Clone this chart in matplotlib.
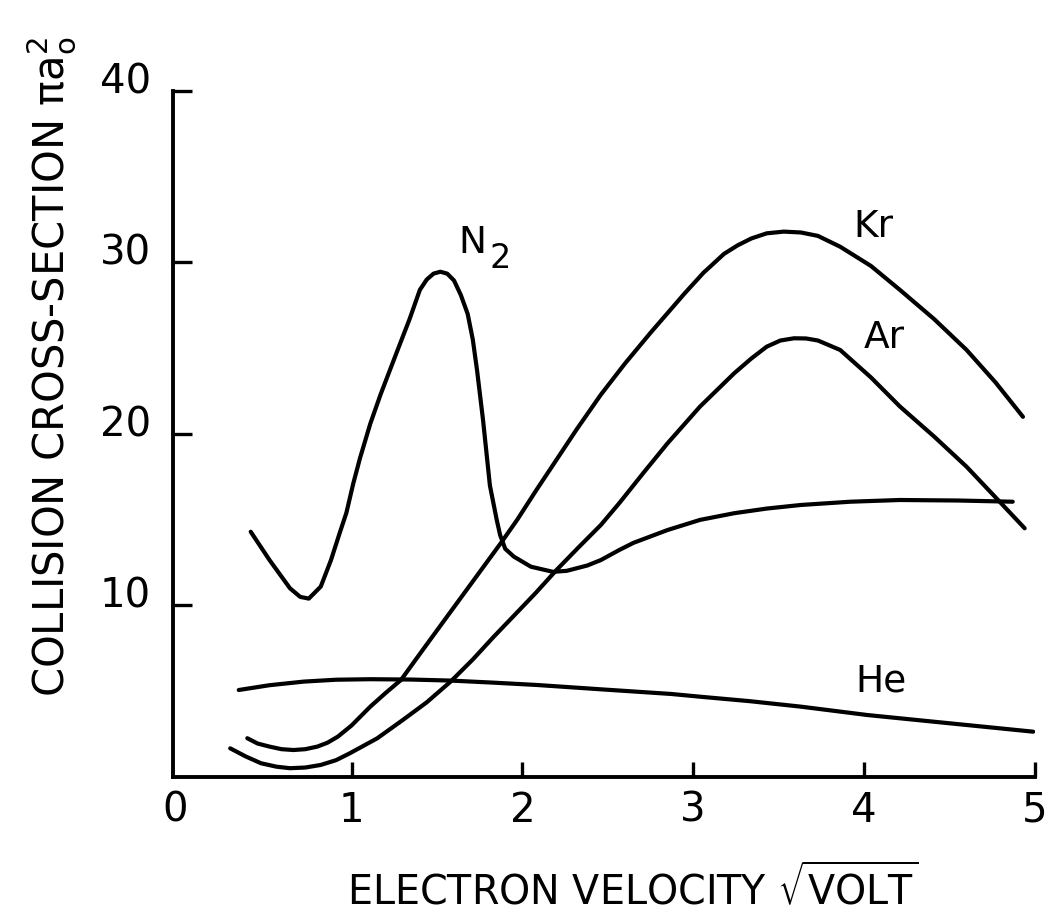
import matplotlib.pyplot as plt
from matplotlib.transforms import ScaledTranslation

# collision cross-section (units of pi a0^2) vs electron velocity (sqrt volt)
# values
n2_x = [0.41, 0.52, 0.64, 0.70, 0.75, 0.82, 0.88, 0.93, 0.97, 1.01, 1.05, 1.11, 1.17,
        1.27, 1.34, 1.40, 1.44, 1.48, 1.52, 1.56, 1.60, 1.64, 1.68, 1.71, 1.735,
        1.77, 1.81, 1.85, 1.87, 1.90, 1.95, 2.05, 2.18, 2.26, 2.38, 2.46,
        2.57, 2.65, 2.85, 3.04, 3.24, 3.43, 3.63, 3.92, 4.21, 4.55, 4.87]
n2_y = [14.3, 12.65, 11.0, 10.5, 10.4, 11.1, 12.65, 14.2, 15.4, 17.1, 18.6, 20.6, 22.3,
        24.9, 26.7, 28.4, 29.0, 29.35, 29.46, 29.35, 28.95, 28.1, 27.0, 25.5, 23.7,
        20.8, 17.0, 14.99, 14.1, 13.3, 12.85, 12.26, 11.96, 12.02, 12.33, 12.65,
        13.25, 13.65, 14.4, 14.99, 15.38, 15.65, 15.86, 16.05, 16.15, 16.12, 16.05]

kr_x = [0.39, 0.45, 0.52, 0.59, 0.66, 0.73, 0.80, 0.86, 0.92, 1.00, 1.11, 1.20,
        1.29, 1.38, 1.48, 1.56, 1.72, 1.88, 1.97, 2.08, 2.18, 2.32, 2.46, 2.60, 2.75,
        2.95, 3.06, 3.18, 3.26, 3.34, 3.43, 3.53, 3.63, 3.73, 3.86, 4.04, 4.21,
        4.41, 4.60, 4.77, 4.93]
kr_y = [2.26, 1.95, 1.77, 1.62, 1.57, 1.62, 1.77, 2.0, 2.35, 3.0, 4.1, 4.9,
        5.66, 6.9, 8.27, 9.36, 11.54, 13.72, 15.0, 16.7, 18.2, 20.3, 22.3, 24.1, 25.9,
        28.2, 29.4, 30.5, 31.0, 31.4, 31.7, 31.8, 31.75, 31.55, 30.92, 29.8, 28.4,
        26.7, 24.9, 23.0, 21.0]

ar_x = [0.29, 0.38, 0.47, 0.56, 0.64, 0.73, 0.82, 0.91, 0.99, 1.15, 1.30, 1.44,
        1.58, 1.71, 1.83, 1.96, 2.08, 2.20, 2.33, 2.46, 2.57, 2.71, 2.85, 3.04,
        3.24, 3.34, 3.43, 3.51, 3.59, 3.66, 3.73, 3.86, 4.04, 4.21, 4.41, 4.60,
        4.77, 4.94]
ar_y = [1.67, 1.2, 0.80, 0.6, 0.51, 0.55, 0.70, 0.98, 1.38, 2.25, 3.32, 4.35,
        5.56, 6.85, 8.15, 9.5, 10.75, 12.07, 13.4, 14.7, 16.0, 17.75, 19.46, 21.6,
        23.54, 24.4, 25.09, 25.45, 25.58, 25.57, 25.45, 24.9, 23.3, 21.6, 19.85, 18.09,
        16.3, 14.5]

he_x = [0.34, 0.52, 0.72, 0.91, 1.11, 1.35, 1.58, 1.83, 2.09, 2.46, 2.87, 3.04,
        3.33, 3.63, 4.02, 4.41, 4.99]
he_y = [5.07, 5.35, 5.56, 5.67, 5.70, 5.68, 5.62, 5.5, 5.36, 5.11, 4.84, 4.68,
        4.42, 4.10, 3.61, 3.22, 2.64]

x_ticks = [0, 1, 2, 3, 4, 5]
y_ticks = [10, 20, 30, 40]

fig = plt.figure(figsize=(10.54, 9.21), dpi=100)
ax = fig.add_axes([0.1641, 0.1564, 0.8178, 0.7448])

for xs, ys in [(n2_x, n2_y), (kr_x, kr_y), (ar_x, ar_y), (he_x, he_y)]:
    ax.plot(xs, ys, color='black', lw=3.0,
            solid_capstyle='round', solid_joinstyle='round')

ax.set_xlim(-0.045, 5.0)
ax.set_ylim(0, 40)
ax.spines[['top', 'right']].set_visible(False)
for side in ['left', 'bottom']:
    ax.spines[side].set_linewidth(2.8)

ax.set_xticks(x_ticks)
ax.set_yticks(y_ticks)
ax.tick_params(axis='x', direction='in', length=11, width=2.4, pad=10, labelsize=29)
ax.tick_params(axis='y', direction='in', length=14, width=2.4, pad=16, labelsize=29)
# no tick mark at the origin, only the label
ax.xaxis.get_major_ticks()[0].tick1line.set_visible(False)

# y labels sit a bit above their ticks in the original
shift = ScaledTranslation(0, 0.13, fig.dpi_scale_trans)
for lab in ax.get_yticklabels():
    lab.set_transform(lab.get_transform() + shift)
zero_lab = ax.get_xticklabels()[0]
zero_lab.set_transform(zero_lab.get_transform() + ScaledTranslation(-0.06, 0, fig.dpi_scale_trans))

# curve labels
ax.text(1.625, 30.55, "N", fontsize=27, ha='left', va='baseline')
ax.text(1.81, 29.7, "2", fontsize=24, ha='left', va='baseline')
ax.text(3.94, 31.49, "Kr", fontsize=27, ha='left', va='baseline')
ax.text(4.00, 25.01, "Ar", fontsize=27, ha='left', va='baseline')
ax.text(3.95, 4.96, "He", fontsize=27, ha='left', va='baseline')

fig.text(347 / 1054, 1 - 904 / 921, r"ELECTRON VELOCITY $\sqrt{\mathrm{VOLT}}$",
         ha='left', va='baseline', fontsize=28.5)
fig.text(65 / 1054, 1 - 697 / 921, r"COLLISION CROSS-SECTION $\mathrm{\pi a_o^2}$",
         rotation=90, rotation_mode='anchor', ha='left', va='baseline', fontsize=30)

fig.savefig("out.png", dpi=100)
